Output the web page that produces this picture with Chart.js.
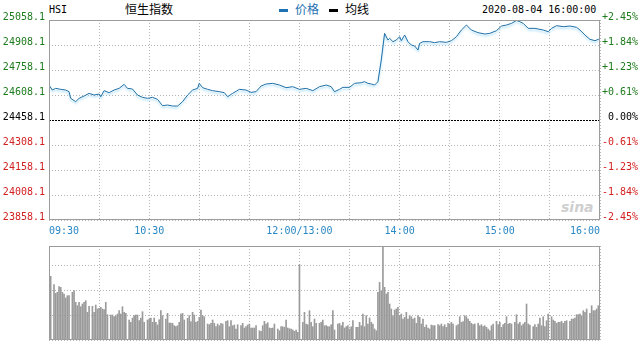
<!DOCTYPE html>
<html>
<head>
<meta charset="utf-8">
<script src="https://cdn.jsdelivr.net/npm/chart.js@4.4.1/dist/chart.umd.min.js"></script>
<style>
  html, body { margin:0; padding:0; background:#fff; }
  body { width:642px; height:344px; position:relative; overflow:hidden; }
  .t { position:absolute; white-space:nowrap; line-height:14px; }
  .mono { font-family:"DejaVu Sans Mono", monospace; font-size:10px; color:#000; }
  .cjk { font-family:"Noto Sans CJK SC", sans-serif; font-size:12px; }
  .dash { position:absolute; width:9px; height:3px; }
  #c1 { position:absolute; left:0; top:0; }
  #c2 { position:absolute; left:0; top:240px; }
  .wm { position:absolute; left:561px; top:199px; font-family:"DejaVu Sans", sans-serif; font-style:italic; font-weight:bold; font-size:14px; color:#cfcfcf; }
</style>
</head>
<body>
<div class="t mono" style="left:49px;top:3px;">HSI</div>
<div class="t cjk" style="left:125px;top:2px;">恒生指数</div>
<div class="dash" style="left:279px;top:9px;background:#1f72b2;"></div>
<div class="t cjk" style="left:295px;top:2px;color:#1f72b2;">价格</div>
<div class="dash" style="left:329px;top:9px;background:#000;"></div>
<div class="t cjk" style="left:345px;top:2px;color:#000;">均线</div>
<div class="t mono" style="left:482px;top:3px;">2020-08-04 16:00:00</div>
<div class="wm">sina</div>
<canvas id="c1" width="642" height="240"></canvas>
<canvas id="c2" width="642" height="104"></canvas>
<script>
// ---------- data ----------
const prevClose = 24458.1;
const priceMinutes = [0,2,4,7,10,12,13,16,18,21,24,27,30,31,33,36,39,42,45,47,50,53,56,59,62,65,68,71,74,77,80,83,86,89,90,92,95,98,102,105,107,110,114,118,121,124,127,130,134,138,142,146,150,154,158,162,166,169,171,174,176,180,183,187,189,191,193,195,197,199,201,203,204,206,208,210,211,213,215,217,219,221,222,224,228,231,234,238,241,244,247,250,253,257,261,264,268,271,274,277,280,282,284,287,291,296,299,301,304,308,312,316,318,321,324,327,329,330];
const priceValues = [24668,24638,24648,24642,24638,24628,24588,24568,24588,24602,24618,24608,24614,24598,24634,24622,24638,24648,24672,24648,24644,24608,24594,24588,24594,24582,24544,24548,24542,24542,24568,24608,24638,24648,24678,24652,24642,24634,24628,24622,24598,24618,24642,24638,24624,24628,24662,24674,24678,24668,24652,24658,24642,24648,24634,24658,24668,24658,24628,24642,24654,24654,24678,24682,24688,24678,24674,24668,24688,24818,24978,24938,24948,24928,24938,24958,24934,24968,24928,24908,24902,24878,24918,24928,24928,24922,24928,24924,24934,24958,24998,25028,24998,24982,24974,24978,24994,25022,25028,25038,25055,25048,25038,25008,25008,24998,24988,25008,25024,25018,25022,25014,24998,24968,24942,24934,24942,24946.6];

const yTickValues = [23858.1,24008.1,24158.1,24308.1,24458.1,24608.1,24758.1,24908.1,25058.1];
const yTickLabels = ['23858.1','24008.1','24158.1','24308.1','24458.1','24608.1','24758.1','24908.1','25058.1'];
const pctLabels = ['-2.45%','-1.84%','-1.23%','-0.61%',' 0.00%','+0.61%','+1.23%','+1.84%','+2.45%'];
const gridMinutes = [0,30,60,90,120,150,180,210,240,270,300,330];
const xLabelMinutes = [0,60,150,210,270,330];
const xLabels = ['09:30','10:30','12:00/13:00','14:00','15:00','16:00'];

const volMinutes = [1,3,4,5,6,7,8,9,10,11,12,14,15,16,17,18,19,20,21,22,23,24,26,27,28,29,30,31,32,33,34,35,37,38,39,40,41,42,43,44,45,46,48,49,50,51,52,53,54,55,56,57,59,60,61,62,63,64,65,66,67,68,70,71,72,73,74,75,76,77,78,79,80,81,83,84,85,86,87,88,89,90,91,92,93,95,96,97,98,99,100,101,102,103,104,106,107,108,109,110,111,
112,113,115,116,117,118,119,120,121,122,123,124,126,127,128,129,130,131,132,133,134,135,137,138,139,140,141,142,143,144,145,146,147,148,149,150,152,153,154,155,156,157,158,159,160,162,163,164,165,166,167,168,169,170,171,173,174,175,176,177,178,179,180,181,182,184,185,186,187,188,189,190,191,192,193,194,195,196,197,198,199,200,201,202,203,204,205,206,207,208,209,210,211,212,213,214,215,216,217,218,219,220,221,222,223,
224,225,226,227,228,229,230,231,233,234,235,236,237,238,239,240,241,242,244,245,246,247,248,249,250,251,252,253,254,255,257,258,259,260,261,262,263,264,265,266,268,269,270,271,272,273,274,275,276,277,279,280,281,282,283,284,285,286,287,288,290,291,292,293,294,295,296,297,298,299,301,302,303,304,305,306,307,308,309,310,312,313,314,315,316,317,318,319,320,321,322,324,325,326,327,328,329];
const volValues = [63.7,55.3,46.7,47.7,53.3,52.7,47.7,46,42,44.3,44.3,47.7,49.3,37.7,34.3,37.7,33.3,36,37.7,39.3,27.7,33.7,33.7,27.7,35,31,31.7,32.7,31,30.3,37.7,25.3,25,25,23.3,24.3,26,29.3,26,33.3,27.7,26.7,20,17.7,22,24.3,25,25,19.3,22,28.3,17.7,20,21,22,17.7,22,17.7,15,20.3,29.3,24.3,21,26.7,17,17,16.7,14.3,13.3,14.3,17.7,26,26.7,20,21.7,24.3,18.3,27.7,25,17.7,18.7,22.7,30,24.3,23.3,16,15.3,16.7,20,16.7,13.3,16,14.3,16.7,16,18.7,19.3,13.3,19.3,14.3,15,
11,15.3,14.3,16.7,12,13.3,15,16,12,12,12,14.3,9.3,8.7,14.3,18.7,16,17.3,12,11.7,12,16,11,9.3,13.3,13.3,12.7,20,12,11.3,11,10,8.7,10,7.7,75.3,17.7,27.7,16,15.3,29.3,17.7,13.3,21,16.7,16.7,17.7,20,14.3,14.3,13.3,13.3,15.3,29.3,10,16,16.7,14.3,17.7,12,13.3,14.3,11,13.3,19.3,12.7,12.7,17.7,14.3,26,13.3,24.3,16,22,17.7,16,11,9.3,47.7,57.7,49.3,120,52.7,46,47.7,36,31,24.3,30,31,32.7,24.3,26,21,22.7,27.7,21,24.3,23.3,21,22,16.7,24.3,22.7,16,
21,12.7,15,12,11,15,14.3,14.3,15.3,14.3,16,13.3,15.3,12.7,16.7,16,17.7,16,14.3,15.3,23.3,17.7,18.3,24.3,23.3,21,18.7,16.7,15.3,16,16.7,14.3,15.3,13.3,14.3,12.7,11,9.3,14.3,16,18.7,15.3,17.7,12.7,15.3,16.7,23.3,16,16.7,16,17.7,25.3,16,17.7,14.3,16,17.7,36,16,15,13.3,15.3,12.7,16,22,14.3,23.3,13.3,19.3,26,23.3,20,18.7,16.7,17.7,17.7,18.7,16.7,18.7,19.3,18.7,21,21,22,25.3,25.3,26,24.3,29.3,27.7,31,26.7,34.3,29.3,29.3,31,34.3];
const volTickValues = [0,25,50,75];
const volMax = 94;

// ---------- styles ----------
const GREEN = '#1e7b1e', RED = '#d21f1f', BLUE_TXT = '#2a88c4', LINE = '#1f6fa6';
const GRID = '#b4b4b4', FRAME = '#9c9c9c';
const MONO = { family: '"DejaVu Sans Mono", monospace', size: 10 };

const tickColor = (ctx) => {
  const v = ctx.tick ? ctx.tick.value : 0;
  if (Math.abs(v - prevClose) < 0.01) return '#000';
  return v > prevClose ? GREEN : RED;
};

const framePlugin = {
  id: 'frame',
  afterDraw(chart) {
    const { ctx, chartArea: a } = chart;
    ctx.save();
    ctx.strokeStyle = FRAME;
    ctx.lineWidth = 1;
    ctx.setLineDash([]);
    ctx.strokeRect(Math.round(a.left) + 0.5, Math.round(a.top) + 0.5,
                   Math.round(a.right - a.left) - 1, Math.round(a.bottom - a.top) - 1);
    ctx.restore();
  }
};
const zeroPlugin = {
  id: 'zero',
  beforeDatasetsDraw(chart) {
    const { ctx, chartArea: a } = chart;
    const y = Math.round(chart.scales.y.getPixelForValue(prevClose)) + 0.5;
    ctx.save();
    ctx.strokeStyle = '#000';
    ctx.lineWidth = 1;
    ctx.setLineDash([2, 1]);
    ctx.beginPath();
    ctx.moveTo(a.left, y); ctx.lineTo(a.right, y);
    ctx.stroke();
    ctx.restore();
  }
};
const glowPlugin = {
  id: 'glow',
  beforeDatasetDraw(chart, args) {
    if (args.index !== 0) return;
    const ctx = chart.ctx;
    ctx.save();
    ctx.shadowColor = 'rgba(130,205,245,0.75)';
    ctx.shadowBlur = 2;
    ctx.shadowOffsetY = 2;
  },
  afterDatasetDraw(chart, args) {
    if (args.index !== 0) return;
    chart.ctx.restore();
  }
};

// ---------- price chart ----------
new Chart(document.getElementById('c1'), {
  type: 'line',
  data: {
    datasets: [{
      data: priceMinutes.map((m, i) => ({ x: m, y: priceValues[i] })),
      borderColor: LINE, borderWidth: 1, pointRadius: 0, tension: 0, fill: false
    }]
  },
  options: {
    responsive: false, animation: false, events: [],
    layout: { padding: { top: 20, left: 0, right: 0, bottom: 0 } },
    plugins: { legend: { display: false }, tooltip: { enabled: false } },
    scales: {
      x: {
        type: 'linear', min: 0, max: 330,
        afterBuildTicks: (s) => { s.ticks = gridMinutes.map(v => ({ value: v })); },
        afterFit: (s) => { s.height = 20; },
        grid: { color: GRID, drawTicks: false },
        border: { display: false, dash: [1, 2] },
        ticks: {
          autoSkip: false, maxRotation: 0, align: 'inner', padding: 5,
          color: BLUE_TXT, font: MONO,
          callback: (v) => { const k = xLabelMinutes.indexOf(v); return k >= 0 ? xLabels[k] : ''; }
        }
      },
      y: {
        position: 'left', min: yTickValues[0], max: yTickValues[yTickValues.length - 1],
        afterBuildTicks: (s) => { s.ticks = yTickValues.map(v => ({ value: v })); },
        afterFit: (s) => { s.width = 49; },
        grid: { color: GRID, drawTicks: false },
        border: { display: false, dash: [1, 2] },
        ticks: {
          padding: 4, labelOffset: -3, color: tickColor, font: MONO,
          callback: (v, i) => yTickLabels[i]
        }
      },
      y2: {
        position: 'right', min: yTickValues[0], max: yTickValues[yTickValues.length - 1],
        afterBuildTicks: (s) => { s.ticks = yTickValues.map(v => ({ value: v })); },
        afterFit: (s) => { s.width = 42; },
        grid: { display: false, drawTicks: false },
        border: { display: false },
        ticks: {
          padding: 2, labelOffset: -3, color: tickColor, font: MONO,
          callback: (v, i) => pctLabels[i]
        }
      }
    }
  },
  plugins: [zeroPlugin, glowPlugin, framePlugin]
});

// ---------- volume chart ----------
new Chart(document.getElementById('c2'), {
  type: 'bar',
  data: {
    datasets: [{
      data: volMinutes.map((m, i) => ({ x: m, y: volValues[i] })),
      backgroundColor: '#9a9a9a', borderWidth: 0, barThickness: 1
    }]
  },
  options: {
    responsive: false, animation: false, events: [],
    layout: { padding: { top: 6, left: 49, right: 42, bottom: 4 } },
    plugins: { legend: { display: false }, tooltip: { enabled: false } },
    scales: {
      x: {
        type: 'linear', min: 0, max: 330, offset: false,
        afterBuildTicks: (s) => { s.ticks = gridMinutes.map(v => ({ value: v })); },
        afterFit: (s) => { s.height = 0; },
        grid: { color: GRID, drawTicks: false, offset: false },
        border: { display: false, dash: [1, 2] },
        ticks: { display: false }
      },
      y: {
        min: 0, max: volMax,
        afterBuildTicks: (s) => { s.ticks = volTickValues.map(v => ({ value: v })); },
        afterFit: (s) => { s.width = 0; },
        grid: { color: GRID, drawTicks: false },
        border: { display: false, dash: [1, 2] },
        ticks: { display: false }
      }
    }
  },
  plugins: [framePlugin]
});
</script>
</body>
</html>
